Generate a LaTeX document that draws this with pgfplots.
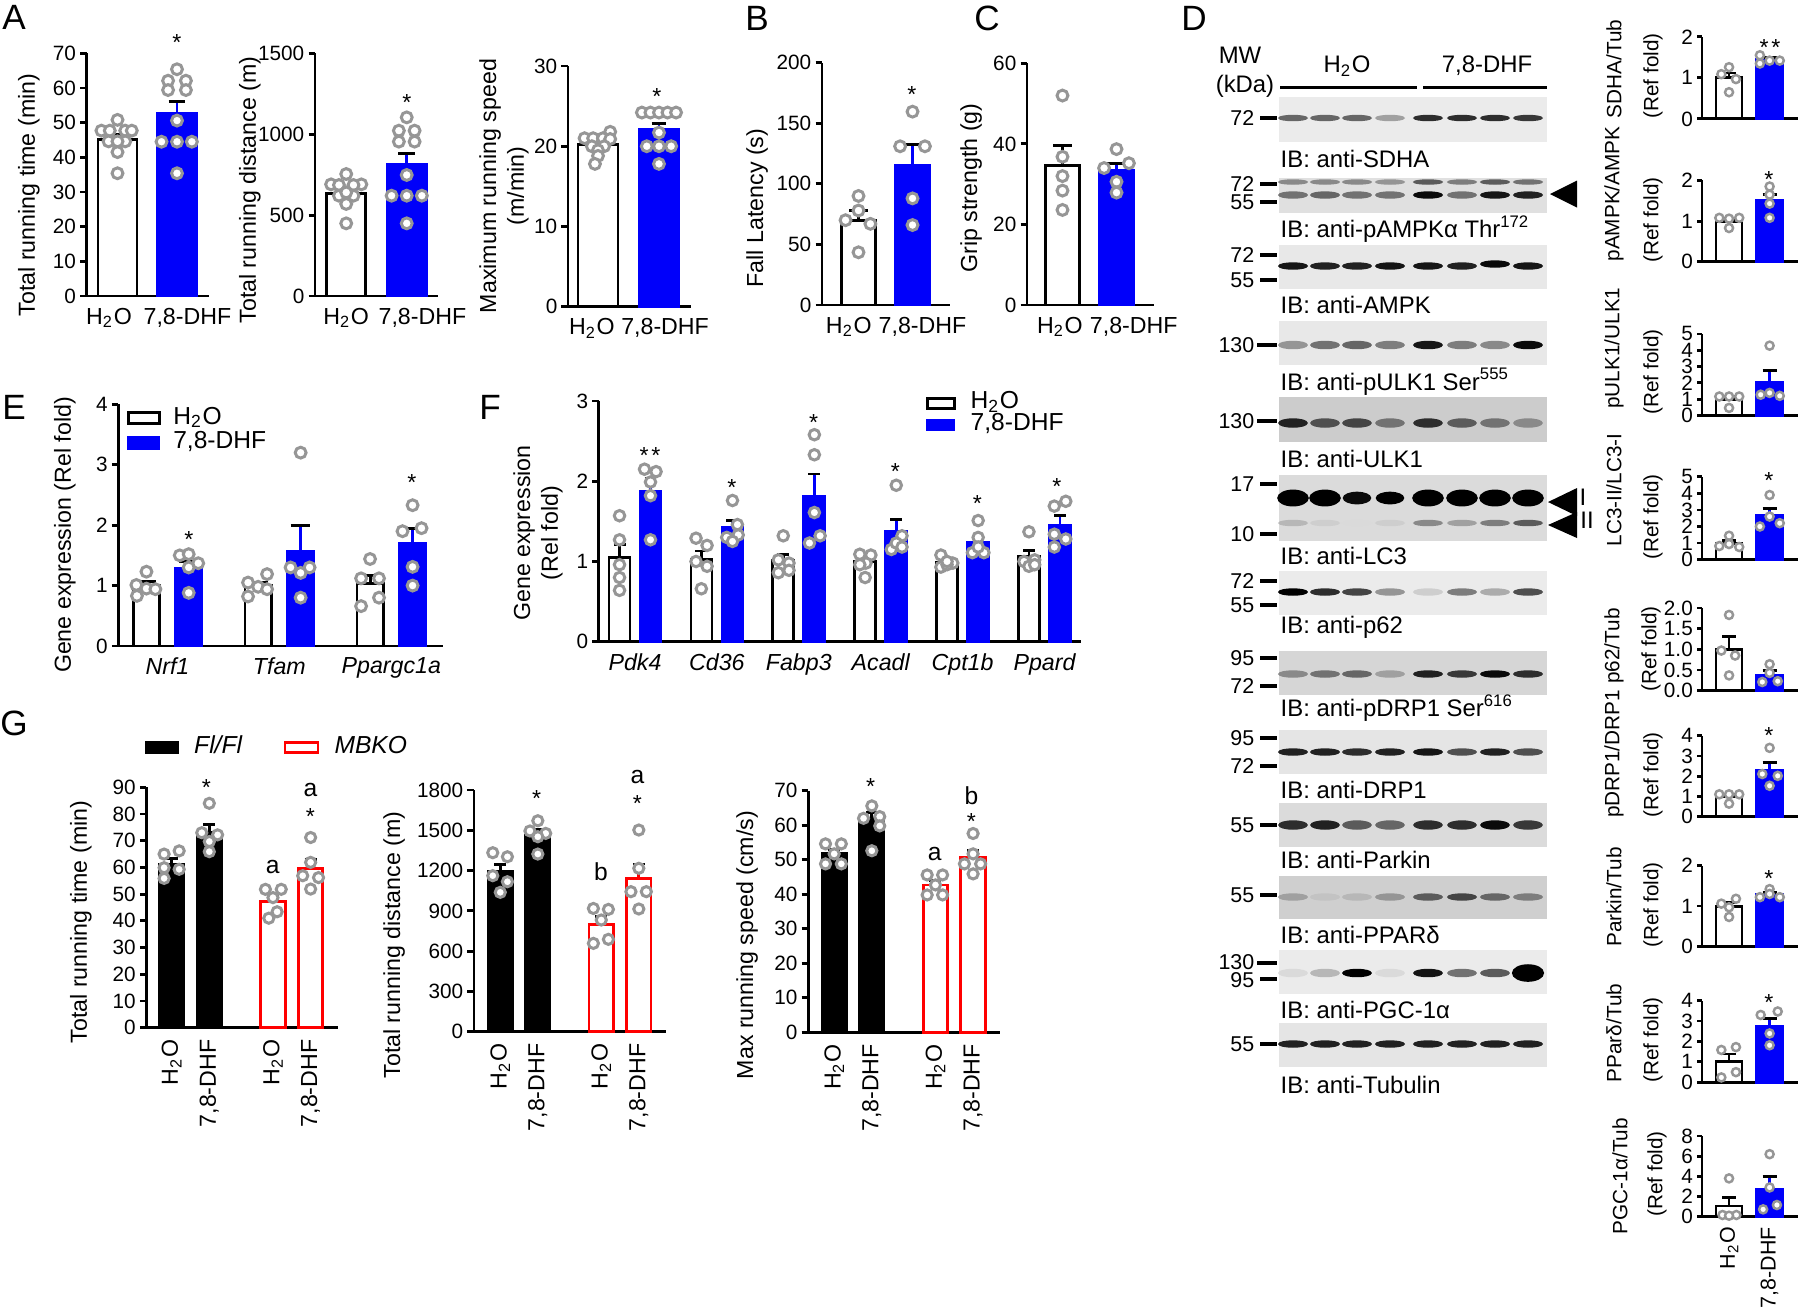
\documentclass[border=0pt]{standalone}
\usepackage{fontspec}
\setmainfont{Liberation Sans}
\usepackage{pgfplots}
\pgfplotsset{compat=1.18}

\definecolor{dhf}{RGB}{0,0,250}
\definecolor{dot}{RGB}{150,150,150}
\definecolor{mbko}{RGB}{255,0,0}

\newcommand{\fs}{\fontsize{6.6}{7.9}\selectfont}
\newcommand{\fl}{\fontsize{7}{8.4}\selectfont}
\newcommand{\fb}{\fontsize{6.8}{8.1}\selectfont}
\newcommand{\fm}{\fontsize{6.1}{7.2}\selectfont}
\newcommand{\ft}{\fontsize{5.9}{7}\selectfont}
\newcommand{\fp}{\fontsize{10}{12}\selectfont}
\newcommand{\hto}{H\textsubscript{2}O}

\pgfplotsset{
  panel/.style={scale only axis, anchor=south west, clip=false,
    axis lines*=left, axis line style={-, line width=0.8pt},
    tick align=outside, major tick length=0.065cm,
    ytick style={line width=0.8pt, black}, xtick style={draw=none},
    ymin=0, enlargelimits=false, scaled ticks=false,
    tick label style={font=\ft}, xticklabel style={font=\fs, yshift=2pt},
    yticklabel style={inner sep=1pt},
    /pgf/number format/assume math mode=true,
    /pgf/number format/1000 sep={}},
  twobar/.style={panel, xticklabels={\hto,{7,8-DHF}}},
  gax/.style={panel, width=1.92cm, bar width=0.65, xtick={1,2,3.69,4.69},
    xticklabels={\hto,{7,8-DHF},\hto,{7,8-DHF}}, xticklabel style={rotate=90, anchor=east}},
  small/.style={panel, width=0.96cm, xmin=0.333, xmax=2.70, bar width=0.64,
    xtick=\empty, major tick length=0.05cm},
  lg/.style={legend style={draw=none, fill=none, inner sep=0pt, font=\fl}, legend cell align=left},
  err/.style={/pgfplots/error bars/y dir=plus, /pgfplots/error bars/y explicit,
    /pgfplots/error bars/error bar style={line width=0.8pt},
    /pgfplots/error bars/error mark options={rotate=90, mark size=#1, line width=0.8pt}},
  wbar/.style={ybar, bar shift=0pt, fill=white, draw=black, line width=0.8pt, forget plot, err=#1},
  bbar/.style={wbar=#1, fill=dhf, draw=dhf},
  kbar/.style={wbar=#1, fill=black, draw=black},
  rbar/.style={wbar=#1, fill=white, draw=mbko},
  dots/.style={only marks, mark=*, mark size=#1, forget plot,
    mark options={fill=white, draw=dot, line width=0.85pt}},
  dots/.default=1.55pt,
  sdots/.style={only marks, mark=*, mark size=1.15pt, forget plot,
    mark options={fill=white, draw=dot, line width=0.7pt}},
  band/.style 2 args={scatter, only marks, mark=*, forget plot, scatter src=explicit,
    mark size=#1, mark options={xscale=#2},
    scatter/use mapped color={draw=mapped color, fill=mapped color}},
}
\tikzset{lab/.style={font=\fs, inner sep=0pt}, vlab/.style={lab, rotate=90},
  star/.style={font=\fs, inner sep=0pt, yshift=-1.4pt},
  mw/.style={font=\fm, inner sep=0pt, anchor=east},
  ib/.style={font=\fb, inner sep=0pt, anchor=west},
  qlab/.style={font=\ft, inner sep=0pt, rotate=90}}

\begin{document}
\begin{tikzpicture}
\useasboundingbox (0,0) rectangle (18cm,-13.16cm);

% ---------------- A: running time
\begin{axis}[twobar, at={(0.867cm,-2.96cm)}, width=1.223cm, height=2.427cm, xtick={0.857,2.176},
  xmin=0.482, xmax=2.538, ymax=70, ytick={0,10,...,70}, bar width=0.655]
\addplot[wbar=2.4pt] coordinates {(1,45.2) +- (0,1.4)};
\addplot[bbar=2.4pt] coordinates {(2,52.8) +- (0,3.2)};
\addplot[dots] coordinates {(1,50.8)(0.73,47.7)(0.87,47.7)(1.13,47.7)(1.24,47.7)(0.85,44.6)(1.13,44.6)(1,44.6)(1,41.5)(1,35.4)};
\addplot[dots] coordinates {(2,65.4)(1.85,62.1)(2.15,62.1)(1.85,59.4)(2.15,59.4)(2,50.6)(1.74,44.5)(2,44.5)(2.25,44.5)(2,35.4)};
\end{axis}

% ---------------- A: running distance
\begin{axis}[twobar, at={(3.15cm,-2.96cm)}, width=1.23cm, height=2.427cm, xtick={1,2.26},
  xmin=0.484, xmax=2.517, ymax=1500, ytick={0,500,1000,1500}, bar width=0.645]
\addplot[wbar=2.4pt] coordinates {(1,632) +- (0,30)};
\addplot[bbar=2.4pt] coordinates {(2,811) +- (0,70)};
\addplot[dots] coordinates {(1,754)(0.75,690)(1.25,690)(0.88,686)(1.12,686)(0.88,620)(1.12,620)(1,569)(1,449)(1,640)};
\addplot[dots] coordinates {(2,1104)(1.87,1022)(2.13,1022)(1.87,954)(2.13,954)(2,748)(1.75,620)(2,620)(2.25,620)(2,449)};
\end{axis}

% ---------------- A: maximum speed
\begin{axis}[twobar, at={(5.68cm,-3.067cm)}, width=1.23cm, height=2.407cm, xtick={0.9,2.1},
  xmin=0.508, xmax=2.525, ymax=30, ytick={0,10,20,30}, bar width=0.656]
\addplot[wbar=2.1pt] coordinates {(1,20.2) +- (0,0.35)};
\addplot[bbar=2.1pt] coordinates {(2,22.05) +- (0,0.8)};
\addplot[dots] coordinates {(1.2,21.8)(0.78,21.0)(0.92,21.0)(1.08,21.0)(1.2,20.9)(0.9,20.0)(1.1,20.0)(1,19.5)(1,18.8)(0.95,17.8)};
\addplot[dots] coordinates {(1.72,24.2)(1.86,24.2)(2,24.2)(2.14,24.2)(2.28,24.2)(2,21.7)(1.8,20)(2,20)(2.2,20)(2,17.8)};
\end{axis}

% ---------------- B: fall latency
\begin{axis}[twobar, at={(8.22cm,-3.05cm)}, width=1.28cm, height=2.423cm, xtick={0.82,2.185},
  xmin=0.324, xmax=2.694, ymax=200, ytick={0,50,...,200}, bar width=0.63]
\addplot[wbar=2.6pt] coordinates {(1,69.7) +- (0,8)};
\addplot[bbar=2.6pt] coordinates {(2,115) +- (0,17.5)};
\addplot[dots] coordinates {(1,90)(1,78)(0.76,70)(1.22,67)(1,43.5)};
\addplot[dots] coordinates {(2,159.6)(1.77,131)(2.23,131)(2,88)(2,66)};
\end{axis}

% ---------------- C: grip strength
\begin{axis}[twobar, at={(10.27cm,-3.05cm)}, width=1.27cm, height=2.417cm, xtick={0.95,2.32},
  xmin=0.343, xmax=2.694, ymax=60, ytick={0,20,40,60}, bar width=0.63]
\addplot[wbar=2.6pt] coordinates {(1,34.6) +- (0,4.9)};
\addplot[bbar=2.6pt] coordinates {(2,33.3) +- (0,1.9)};
\addplot[dots] coordinates {(1,52)(1,36.8)(1,32)(1,28.4)(1,23.6)};
\addplot[dots] coordinates {(2,38.7)(1.77,34)(2.23,35.2)(2,30.6)(2,27.9)};
\end{axis}

% ---------------- E
\begin{axis}[panel, lg, at={(1.183cm,-6.46cm)}, width=3.244cm, height=2.417cm,
  xmin=0.561, xmax=3.459, ymax=4, ytick={0,1,2,3,4}, bar width=0.238,
  xtick={1,2,3}, xticklabels={Nrf1,Tfam,Ppargc1a}, xticklabel style={font=\fs\itshape},
  legend style={at={(0.024,0.997)}, anchor=north west,
    nodes={inner sep=0.4pt, text height=1.7mm, text depth=0.5mm},
    /tikz/every odd column/.append style={column sep=3.2pt}}]
\addplot[wbar=2.8pt] coordinates {(0.8125,1.0) +- (0,0.07) (1.8125,1.0) +- (0,0.06) (2.8125,1.03) +- (0,0.14)};
\addplot[bbar=2.8pt] coordinates {(1.1875,1.29) +- (0,0.11) (2.1875,1.56) +- (0,0.44) (3.1875,1.70) +- (0,0.25)};
\addplot[dots] coordinates {(0.8125,1.23)(0.7225,1.01)(0.8125,0.95)(0.8925,0.94)(0.7275,0.83)
  (1.72,1.05)(1.81,0.98)(1.89,1.19)(1.89,0.94)(1.72,0.82)
  (2.81,1.44)(2.73,1.12)(2.89,1.12)(2.89,0.80)(2.73,0.66)};
\addplot[dots] coordinates {(1.11,1.5)(1.19,1.52)(1.275,1.37)(1.19,1.30)(1.19,0.88)
  (2.19,3.2)(2.10,1.30)(2.19,1.21)(2.27,1.30)(2.19,0.80)
  (3.19,2.33)(3.10,1.90)(3.27,1.95)(3.19,1.31)(3.19,1.0)};
\addlegendimage{legend image code/.code={\draw[fill=white, draw=black, line width=0.8pt] (0cm,-0.055cm) rectangle (0.31cm,0.055cm);}}
\addlegendentry{\hto}
\addlegendimage{legend image code/.code={\fill[dhf] (0cm,-0.06cm) rectangle (0.31cm,0.06cm);}}
\addlegendentry{7,8-DHF}
\end{axis}

% ---------------- F
\begin{axis}[panel, lg, at={(5.989cm,-6.417cm)}, width=4.817cm, height=2.407cm,
  xmin=0.559, xmax=6.441, ymax=3, ytick={0,1,2,3}, bar width=0.256,
  xtick={1,...,6}, xticklabels={Pdk4,Cd36,Fabp3,Acadl,Cpt1b,Ppard}, xticklabel style={font=\fs\itshape},
  legend style={at={(0.677,1.04)}, anchor=north west,
    nodes={inner sep=0.3pt, text height=1.55mm, text depth=0.45mm},
    /tikz/every odd column/.append style={column sep=4pt}}]
\addplot[wbar=1.7pt] coordinates {(0.811,1.05) +- (0,0.16) (1.811,1.02) +- (0,0.11) (2.811,1.01) +- (0,0.08) (3.811,1.0) +- (0,0.05) (4.811,0.99) +- (0,0.03) (5.811,1.06) +- (0,0.08)};
\addplot[bbar=1.7pt] coordinates {(1.189,1.87) +- (0,0.16) (2.189,1.42) +- (0,0.09) (3.189,1.81) +- (0,0.28) (4.189,1.37) +- (0,0.15) (5.189,1.24) +- (0,0.07) (6.189,1.45) +- (0,0.12)};
\addplot[dots=1.5pt] coordinates {(0.811,1.57)(0.811,1.27)(0.811,0.96)(0.811,0.80)(0.811,0.64)
  (1.745,1.29)(1.88,1.20)(1.745,1.0)(1.88,0.94)(1.81,0.66)
  (2.81,1.32)(2.75,1.02)(2.88,0.98)(2.75,0.86)(2.88,0.89)
  (3.745,1.09)(3.88,1.08)(3.82,0.98)(3.745,0.96)(3.81,0.80)
  (4.735,1.08)(4.735,0.93)(4.88,0.98)(4.81,0.96)(4.81,1.0)
  (5.81,1.37)(5.75,1.0)(5.88,1.02)(5.81,0.94)(5.88,0.96)};
\addplot[dots=1.5pt] coordinates {(1.116,2.15)(1.257,2.12)(1.189,1.99)(1.189,1.82)(1.189,1.27)
  (2.19,1.76)(2.25,1.46)(2.12,1.30)(2.26,1.33)(2.19,1.25)
  (3.19,2.58)(3.19,2.33)(3.19,1.61)(3.26,1.32)(3.13,1.23)
  (4.19,1.95)(4.26,1.32)(4.13,1.15)(4.19,1.23)(4.26,1.18)
  (5.19,1.51)(5.19,1.30)(5.12,1.11)(5.26,1.11)(5.19,1.18)
  (6.12,1.69)(6.26,1.75)(6.12,1.34)(6.26,1.28)(6.12,1.18)};
\addlegendimage{legend image code/.code={\draw[fill=white, draw=black, line width=0.8pt] (0cm,-0.05cm) rectangle (0.27cm,0.05cm);}}
\addlegendentry{\hto}
\addlegendimage{legend image code/.code={\fill[dhf] (0cm,-0.055cm) rectangle (0.27cm,0.055cm);}}
\addlegendentry{7,8-DHF}
\end{axis}

% ---------------- G: running time
\begin{axis}[gax, lg, at={(1.463cm,-10.277cm)}, height=2.404cm,
  xmin=0.327, xmax=5.425, ymax=90, ytick={0,10,...,90}, legend columns=-1,
  legend style={at={(-0.012,1.166)}, anchor=west,
    /tikz/every odd column/.append style={column sep=2.3pt},
    /tikz/every even column/.append style={column sep=0.34cm}}]
\addplot[kbar=1.7pt] coordinates {(1,61.3) +- (0,1.9) (2,73) +- (0,3)};
\addplot[rbar=1.7pt] coordinates {(3.69,47.3) +- (0,2.1) (4.69,59.6) +- (0,3.3)};
\addplot[dots=1.45pt] coordinates {(0.8,65)(1.2,66.2)(0.8,59.9)(1.2,59.3)(0.8,55.9)
  (2,84)(1.8,73)(2.22,72.2)(2,69.7)(2,65.9)
  (3.49,51.8)(3.91,51.8)(3.69,48.7)(3.58,41)(3.8,43.4)
  (4.69,71.2)(4.69,61.9)(4.48,56.9)(4.9,56.2)(4.69,51.9)};
\addlegendimage{legend image code/.code={\fill[black] (0cm,-0.055cm) rectangle (0.33cm,0.055cm);}}
\addlegendentry{\textit{Fl/Fl}}
\addlegendimage{legend image code/.code={\draw[mbko, line width=0.8pt] (0cm,-0.05cm) rectangle (0.33cm,0.05cm);}}
\addlegendentry{\textit{MBKO}}
\end{axis}

% ---------------- G: running distance
\begin{axis}[gax, at={(4.74cm,-10.317cm)}, height=2.417cm,
  xmin=0.30, xmax=5.414, ymax=1800, ytick={0,300,...,1800}]
\addplot[kbar=1.7pt] coordinates {(1,1191) +- (0,55) (2,1464) +- (0,40)};
\addplot[rbar=1.7pt] coordinates {(3.69,801) +- (0,55) (4.69,1144) +- (0,105)};
\addplot[dots=1.45pt] coordinates {(0.8,1333)(1.19,1303)(0.8,1162)(1.19,1117)(1,1038)
  (2,1571)(1.79,1495)(2.21,1477)(2,1452)(2,1323)
  (3.48,918)(3.88,911)(3.69,832)(3.48,658)(3.88,688)
  (4.69,1502)(4.69,1217)(4.48,1043)(4.89,1043)(4.69,914)};
\end{axis}

% ---------------- G: max speed
\begin{axis}[gax, at={(8.082cm,-10.323cm)}, height=2.416cm,
  xmin=0.31, xmax=5.41, ymax=70, ytick={0,10,...,70}]
\addplot[kbar=1.7pt] coordinates {(1,51.7) +- (0,1.2) (2,62) +- (0,1.6)};
\addplot[rbar=1.7pt] coordinates {(3.69,42.7) +- (0,1.2) (4.69,50.6) +- (0,2.0)};
\addplot[dots=1.45pt] coordinates {(0.77,54.6)(1.19,54.6)(1,51.7)(0.77,48.8)(1.19,48.8)
  (2,65.6)(1.78,62)(2.21,62.5)(2.21,59.8)(2,52.6)
  (3.47,45.6)(3.88,45.6)(3.69,42.7)(3.47,39.8)(3.88,39.8)
  (4.69,57.6)(4.69,51.7)(4.46,48.8)(4.89,48.8)(4.69,45.9)};
\end{axis}

% ---------------- D: quantifications
\begin{axis}[small, at={(17.02cm,-1.189cm)}, height=0.821cm, ymax=2, ytick={0,1,2}]
\addplot[wbar=2pt] coordinates {(1,1.0) +- (0,0.12)};
\addplot[bbar=2pt] coordinates {(2,1.45) +- (0,0.04)};
\addplot[sdots] coordinates {(1,1.26)(0.81,1.09)(1.17,0.97)(1,0.65)(1.76,1.55)(1.76,1.35)(2,1.42)(2.25,1.42)};
\end{axis}
\begin{axis}[small, at={(17.02cm,-2.618cm)}, height=0.814cm, ymax=2, ytick={0,1,2}]
\addplot[wbar=2pt] coordinates {(1,1.0) +- (0,0.06)};
\addplot[bbar=2pt] coordinates {(2,1.5) +- (0,0.16)};
\addplot[sdots] coordinates {(0.76,1.08)(1,1.06)(1.25,1.08)(1,0.83)(2,1.85)(2,1.65)(2,1.43)(2,1.08)};
\end{axis}
\begin{axis}[small, at={(17.02cm,-4.154cm)}, height=0.815cm, ymax=5, ytick={0,1,2,3,4,5}]
\addplot[wbar=2pt] coordinates {(1,1.0) +- (0,0.17)};
\addplot[bbar=2pt] coordinates {(2,2.03) +- (0,0.75)};
\addplot[sdots] coordinates {(0.76,1.16)(1,1.16)(1.25,1.16)(1,0.46)(2,4.28)(1.78,1.27)(2,1.38)(2.25,1.2)};
\end{axis}
\begin{axis}[small, at={(17.02cm,-5.596cm)}, height=0.828cm, ymax=5, ytick={0,1,2,3,4,5}]
\addplot[wbar=2pt] coordinates {(1,0.99) +- (0,0.15)};
\addplot[bbar=2pt] coordinates {(2,2.68) +- (0,0.43)};
\addplot[sdots] coordinates {(1,1.44)(0.76,0.82)(1,0.94)(1.25,0.76)(2,3.9)(2,2.6)(1.76,2.0)(2.25,2.2)};
\end{axis}
\begin{axis}[small, at={(17.02cm,-6.907cm)}, height=0.828cm, ymax=2, ytick={0,0.5,1,1.5,2},
  yticklabel style={/pgf/number format/fixed, /pgf/number format/fixed zerofill, /pgf/number format/precision=1}]
\addplot[wbar=2pt] coordinates {(1,1.0) +- (0,0.31)};
\addplot[bbar=2pt] coordinates {(2,0.38) +- (0,0.1)};
\addplot[sdots] coordinates {(1,1.83)(0.81,0.97)(1.15,0.85)(1,0.37)(2,0.64)(2,0.43)(1.82,0.21)(2.2,0.23)};
\end{axis}
\begin{axis}[small, at={(17.02cm,-8.168cm)}, height=0.811cm, ymax=4, ytick={0,1,2,3,4}]
\addplot[wbar=2pt] coordinates {(1,1.0) +- (0,0.12)};
\addplot[bbar=2pt] coordinates {(2,2.27) +- (0,0.4)};
\addplot[sdots] coordinates {(0.76,1.11)(1,1.11)(1.25,1.11)(1,0.65)(2,3.4)(1.82,2.11)(2.2,2.02)(2,1.53)};
\end{axis}
\begin{axis}[small, at={(17.02cm,-9.464cm)}, height=0.807cm, ymax=2, ytick={0,1,2}]
\addplot[wbar=2pt] coordinates {(1,0.985) +- (0,0.1)};
\addplot[bbar=2pt] coordinates {(2,1.29) +- (0,0.05)};
\addplot[sdots] coordinates {(0.81,1.06)(1.17,1.18)(1,0.97)(1,0.73)(2,1.42)(1.76,1.22)(2,1.3)(2.25,1.22)};
\end{axis}
\begin{axis}[small, at={(17.02cm,-10.821cm)}, height=0.814cm, ymax=4, ytick={0,1,2,3,4}]
\addplot[wbar=2pt] coordinates {(1,1.0) +- (0,0.38)};
\addplot[bbar=2pt] coordinates {(2,2.74) +- (0,0.38)};
\addplot[sdots] coordinates {(0.81,1.58)(1.17,1.72)(0.81,0.23)(1.17,0.49)(1.78,3.3)(2.2,3.47)(2,2.39)(2,1.81)};
\end{axis}
\begin{axis}[small, at={(17.02cm,-12.167cm)}, height=0.807cm, ymax=8, ytick={0,2,4,6,8},
  xtick={1,2}, xticklabels={\hto,{7,8-DHF}}, xticklabel style={rotate=90, anchor=east, font=\fm}]
\addplot[wbar=2pt] coordinates {(1,1.06) +- (0,0.85)};
\addplot[bbar=2pt] coordinates {(2,2.75) +- (0,1.25)};
\addplot[sdots] coordinates {(1,3.8)(0.84,0.17)(1.18,0.17)(1,0.1)(2,6.2)(2,2.9)(1.84,0.73)(2.18,1.16)};
\end{axis}

% ---------------- canvas in pixel units: blots and all free text
\begin{axis}[at={(0cm,0cm)}, anchor=north west, scale only axis, width=18cm, height=13.16cm,
  xmin=0, xmax=1800, ymin=0, ymax=1316, y dir=reverse, hide axis, clip=false,
  colormap={blot}{color(0cm)=(black!10); color(1cm)=(black)},
  point meta min=0, point meta max=1]
% blot strips
\addplot[draw=none, fill=black!8] coordinates {(1279,97)(1547,97)(1547,142)(1279,142)};
\addplot[draw=none, fill=black!12] coordinates {(1279,177.5)(1547,177.5)(1547,212.5)(1279,212.5)};
\addplot[draw=none, fill=black!9] coordinates {(1279,245)(1547,245)(1547,289)(1279,289)};
\addplot[draw=none, fill=black!9] coordinates {(1279,321)(1547,321)(1547,365)(1279,365)};
\addplot[draw=none, fill=black!20] coordinates {(1279,397)(1547,397)(1547,442)(1279,442)};
\addplot[draw=none, fill=black!14] coordinates {(1279,475)(1547,475)(1547,541)(1279,541)};
\addplot[draw=none, fill=black!8] coordinates {(1279,571)(1547,571)(1547,615)(1279,615)};
\addplot[draw=none, fill=black!16] coordinates {(1279,651)(1547,651)(1547,695)(1279,695)};
\addplot[draw=none, fill=black!10] coordinates {(1279,730)(1547,730)(1547,774)(1279,774)};
\addplot[draw=none, fill=black!14] coordinates {(1279,803)(1547,803)(1547,847)(1279,847)};
\addplot[draw=none, fill=black!19] coordinates {(1279,876)(1547,876)(1547,919)(1279,919)};
\addplot[draw=none, fill=black!8] coordinates {(1279,950)(1547,950)(1547,994)(1279,994)};
\addplot[draw=none, fill=black!10] coordinates {(1279,1023)(1547,1023)(1547,1067)(1279,1067)};
% bands: (lane, height) [intensity]
\addplot[band={0.71pt}{5.6}] coordinates {(1293,118)[0.55](1325,118)[0.55](1357,118)[0.55](1390,118)[0.3](1428,118)[0.8](1462,118)[0.8](1495,118)[0.8](1528,118)[0.75]};
\addplot[band={0.57pt}{7}] coordinates {(1293,182)[0.4](1325,182)[0.4](1357,182)[0.4](1390,182)[0.35](1428,182)[0.6](1462,182)[0.45](1495,182)[0.6](1528,182)[0.5]};
\addplot[band={0.85pt}{4.7}] coordinates {(1293,195)[0.5](1325,195)[0.55](1357,195)[0.5](1390,195)[0.5](1428,195)[0.95](1462,195)[0.5](1495,195)[0.9](1528,195)[0.85]};
\addplot[band={0.85pt}{4.7}] coordinates {(1293,266)[0.9](1325,266)[0.85](1357,266)[0.85](1390,266)[0.9](1428,266)[0.9](1462,266)[0.85](1495,264)[0.95](1528,266)[0.9]};
\addplot[band={1pt}{4}] coordinates {(1293,345)[0.35](1325,345)[0.5](1357,345)[0.55](1390,345)[0.45](1428,345)[0.9](1462,345)[0.45](1495,345)[0.4](1528,345)[0.95]};
\addplot[band={1.14pt}{3.5}] coordinates {(1293,423)[0.85](1325,423)[0.65](1357,423)[0.7](1390,423)[0.5](1428,423)[0.8](1462,423)[0.6](1495,423)[0.5](1528,423)[0.4]};
\addplot[band={2.2pt}{1.95}] coordinates {(1293,498)[1](1325,498)[1](1428,498)[1](1462,498)[1](1495,498)[1](1528,498)[1]};
\addplot[band={1.6pt}{2.4}] coordinates {(1357,498)[0.95](1390,498)[1]};
\addplot[band={0.71pt}{5.6}] coordinates {(1293,523)[0.2](1325,523)[0.1](1357,523)[0.05](1390,523)[0.1](1428,523)[0.4](1462,523)[0.3](1495,523)[0.45](1528,523)[0.6]};
\addplot[band={0.85pt}{4.7}] coordinates {(1293,592)[1](1325,592)[0.8](1357,592)[0.7](1390,592)[0.35](1428,592)[0.1](1462,592)[0.45](1495,592)[0.25](1528,592)[0.65]};
\addplot[band={0.85pt}{4.7}] coordinates {(1293,674)[0.4](1325,674)[0.5](1357,674)[0.55](1390,674)[0.3](1428,674)[0.85](1462,674)[0.75](1495,674)[0.95](1528,674)[0.8]};
\addplot[band={0.85pt}{4.7}] coordinates {(1293,752)[0.85](1325,752)[0.85](1357,752)[0.8](1390,752)[0.85](1428,752)[0.9](1462,752)[0.65](1495,752)[0.85](1528,752)[0.65]};
\addplot[band={1.14pt}{3.5}] coordinates {(1293,825)[0.8](1325,825)[0.85](1357,825)[0.6](1390,825)[0.55](1428,825)[0.8](1462,825)[0.8](1495,825)[0.95](1528,825)[0.75]};
\addplot[band={0.85pt}{4.7}] coordinates {(1293,897)[0.3](1325,897)[0.15](1357,897)[0.2](1390,897)[0.35](1428,897)[0.6](1462,897)[0.7](1495,897)[0.55](1528,897)[0.45]};
\addplot[band={1pt}{4}] coordinates {(1293,973)[0.05](1325,973)[0.2](1357,973)[1](1390,973)[0.05](1428,973)[0.9](1462,973)[0.5](1495,973)[0.6]};
\addplot[band={2.3pt}{1.9}] coordinates {(1528,973)[1]};
\addplot[band={0.85pt}{4.7}] coordinates {(1293,1044)[0.85](1325,1044)[0.85](1357,1044)[0.85](1390,1044)[0.85](1428,1044)[0.85](1462,1044)[0.85](1495,1044)[0.85](1528,1044)[0.85]};
% group lines, MW ticks and arrowheads
\addplot[line width=1.1pt, forget plot] coordinates {(1280,87.5)(1417,87.5)};
\addplot[line width=1.1pt, forget plot] coordinates {(1423,87.5)(1547,87.5)};
\addplot[line width=1.1pt, forget plot, unbounded coords=jump] coordinates {
  (1260,118)(1277,118)(1260,nan)(1260,184)(1277,184)(1260,nan)(1260,202)(1277,202)(1260,nan)
  (1260,255)(1277,255)(1260,nan)(1260,280)(1277,280)(1260,nan)(1257,345)(1277,345)(1260,nan)
  (1257,421)(1277,421)(1260,nan)(1260,484)(1277,484)(1260,nan)(1260,534)(1277,534)(1260,nan)
  (1260,581)(1277,581)(1260,nan)(1260,605)(1277,605)(1260,nan)(1260,658)(1277,658)(1260,nan)
  (1260,686)(1277,686)(1260,nan)(1260,738)(1277,738)(1260,nan)(1260,766)(1277,766)(1260,nan)
  (1260,825)(1277,825)(1260,nan)(1260,895)(1277,895)(1260,nan)(1257,963)(1277,963)(1260,nan)
  (1260,979)(1277,979)(1260,nan)(1260,1044)(1277,1044)};
\addplot[fill=black, draw=none, forget plot] coordinates {(1550,194)(1577,180.5)(1577,207.5)};
\addplot[fill=black, draw=none, forget plot] coordinates {(1548,502)(1577,488)(1577,516)};
\addplot[fill=black, draw=none, forget plot] coordinates {(1548,525)(1577,512)(1577,538)};

% panel letters
\node[font=\fp, inner sep=0pt] at (14,17) {A};
\node[font=\fp, inner sep=0pt] at (757,18) {B};
\node[font=\fp, inner sep=0pt] at (987,18) {C};
\node[font=\fp, inner sep=0pt] at (1194,18) {D};
\node[font=\fp, inner sep=0pt] at (14,407) {E};
\node[font=\fp, inner sep=0pt] at (490,407) {F};
\node[font=\fp, inner sep=0pt] at (14,723) {G};

% axis titles
\node[vlab] at (29,195) {Total running time (min)};
\node[vlab] at (250,190) {Total running distance (m)};
\node[vlab, align=center] at (504,186) {Maximum running speed\\(m/min)};
\node[vlab] at (757,208) {Fall Latency (s)};
\node[vlab] at (971,188) {Grip strength (g)};
\node[vlab] at (65,535) {Gene expression (Rel fold)};
\node[vlab, align=center] at (538,533) {Gene expression\\(Rel fold)};
\node[vlab] at (81,922) {Total running time (min)};
\node[vlab] at (394,945) {Total running distance (m)};
\node[vlab] at (747,945) {Max running speed (cm/s)};

% significance marks
\node[star] at (177,38) {*};
\node[star] at (407,98) {*};
\node[star] at (657,92) {*};
\node[star] at (912,90) {*};
\node[star] at (189,535) {*};
\node[star] at (412,478) {*};
\node[star] at (650,451) {*\kern0.8pt*};
\node[star] at (732,483) {*};
\node[star] at (813.6,418) {*};
\node[star] at (895.4,467) {*};
\node[star] at (977.4,499) {*};
\node[star] at (1057,482) {*};
\node[star] at (206.4,783) {*};
\node[font=\fl, inner sep=0pt] at (272.8,867) {a};
\node[font=\fl, inner sep=0pt] at (310.4,790) {a};
\node[star] at (310.4,812) {*};
\node[star] at (536.6,794) {*};
\node[font=\fl, inner sep=0pt] at (601,872) {b};
\node[font=\fl, inner sep=0pt] at (637.5,777) {a};
\node[star] at (637.5,799) {*};
\node[star] at (870.7,782) {*};
\node[font=\fl, inner sep=0pt] at (934.6,854) {a};
\node[font=\fl, inner sep=0pt] at (971.4,796) {b};
\node[star] at (971.4,817) {*};
\node[star] at (1770,43) {*\kern0.8pt*};
\node[star] at (1769,175) {*};
\node[star] at (1769,476) {*};
\node[star] at (1769,731) {*};
\node[star] at (1769,874) {*};
\node[star] at (1769,998) {*};

% blot header, molecular weights and antibody labels
\node[font=\fb, inner sep=0pt] at (1240,55) {MW};
\node[font=\fb, inner sep=0pt] at (1245,86) {(kDa)};
\node[font=\fb, inner sep=0pt] at (1347,66) {\hto};
\node[font=\fb, inner sep=0pt] at (1487,66) {7,8-DHF};
\node[mw] at (1255,118) {72};
\node[mw] at (1255,184) {72};
\node[mw] at (1255,202) {55};
\node[mw] at (1255,255) {72};
\node[mw] at (1255,280) {55};
\node[mw] at (1255,345) {130};
\node[mw] at (1255,421) {130};
\node[mw] at (1255,484) {17};
\node[mw] at (1255,534) {10};
\node[mw] at (1255,581) {72};
\node[mw] at (1255,605) {55};
\node[mw] at (1255,658) {95};
\node[mw] at (1255,686) {72};
\node[mw] at (1255,738) {95};
\node[mw] at (1255,766) {72};
\node[mw] at (1255,825) {55};
\node[mw] at (1255,895) {55};
\node[mw] at (1255,962) {130};
\node[mw] at (1255,980) {95};
\node[mw] at (1255,1044) {55};
\node[ib] at (1280,159) {IB: anti-SDHA};
\node[ib] at (1280,229) {IB: anti-pAMPKα Thr\textsuperscript{172}};
\node[ib] at (1280,305) {IB: anti-AMPK};
\node[ib] at (1280,382) {IB: anti-pULK1 Ser\textsuperscript{555}};
\node[ib] at (1280,459) {IB: anti-ULK1};
\node[ib] at (1280,556) {IB: anti-LC3};
\node[ib] at (1280,627.5) {IB: anti-p62};
\node[ib] at (1280,708) {IB: anti-pDRP1 Ser\textsuperscript{616}};
\node[ib] at (1280,790) {IB: anti-DRP1};
\node[ib] at (1280,860) {IB: anti-Parkin};
\node[ib] at (1280,935) {IB: anti-PPARδ};
\node[ib] at (1280,1010) {IB: anti-PGC-1α};
\node[ib] at (1280,1085) {IB: anti-Tubulin};
\node[font=\fb, inner sep=0pt] at (1583,497) {I};
\node[font=\fb, inner sep=0pt] at (1587,520) {II};

% quantification titles
\node[qlab] at (1614,69) {SDHA/Tub};
\node[qlab] at (1653,76) {(Ref fold)};
\node[qlab] at (1614,194) {pAMPK/AMPK};
\node[qlab] at (1653,220) {(Ref fold)};
\node[qlab] at (1614,348) {pULK1/ULK1};
\node[qlab] at (1653,372) {(Ref fold)};
\node[qlab] at (1614,490) {LC3-II/LC3-I};
\node[qlab] at (1653,517) {(Ref fold)};
\node[qlab] at (1614,646) {p62/Tub};
\node[qlab] at (1651,649) {(Ref fold)};
\node[qlab] at (1614,754) {pDRP1/DRP1};
\node[qlab] at (1653,775) {(Ref fold)};
\node[qlab] at (1614,897) {Parkin/Tub};
\node[qlab] at (1653,905) {(Ref fold)};
\node[qlab] at (1614,1033) {PParδ/Tub};
\node[qlab] at (1653,1040) {(Ref fold)};
\node[qlab] at (1620,1176) {PGC-1α/Tub};
\node[qlab] at (1657,1174) {(Ref fold)};
\end{axis}
\end{tikzpicture}
\end{document}
